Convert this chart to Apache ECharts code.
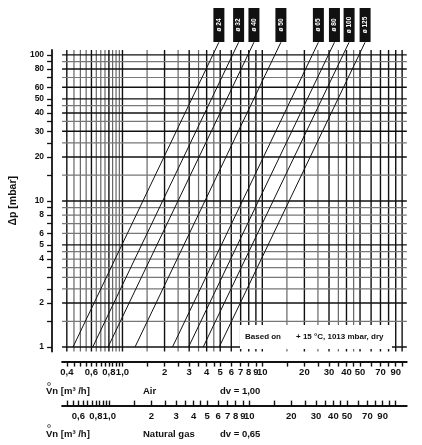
<!DOCTYPE html>
<html><head><meta charset="utf-8">
<script src="https://cdn.jsdelivr.net/npm/echarts@6/dist/echarts.min.js"></script>
<style>html,body{margin:0;padding:0;background:#fff}#c{width:422px;height:445px}</style>
</head><body><div id="c"></div>
<script>
const sizes = ['ø 24','ø 32','ø 40','ø 50','ø 65','ø 80','ø 100','ø 125'];
const flowAtOneMbar = [0.443,0.613,0.789,1.23,2.28,2.97,3.78,4.92];
const dpTicks = [1,2,4,5,6,8,10,20,30,40,50,60,80,100];
const gridY = [1,1.5,2,2.5,3,3.5,4,4.5,5,6,7,8,9,10,15,20,25,30,35,40,45,50,60,70,80,90,100];
const gridX = [0.4,0.45,0.5,0.55,0.6,0.65,0.7,0.75,0.8,0.85,0.9,0.95,1.0,1.5,2,2.5,3,3.5,4,4.5,5,6,7,8,9,10,15,20,25,30,35,40,45,50,60,70,80,90,100];
const airLabels = [0.4,0.6,0.8,1,2,3,4,5,6,7,8,9,10,20,30,40,50,70,90];
const airTicks = gridX;
const gasLabels = [0.6,0.8,1,2,3,4,5,6,7,8,9,10,20,30,40,50,70,90];
const gasTicks = [0.5,0.55,0.6,0.65,0.7,0.75,0.8,0.85,0.9,0.95,1,1.5,2,2.5,3,3.5,4,4.5,5,6,7,8,9,10,15,20,25,30,35,40,45,50,60,70,80,90,100,110];
const densityGas = 0.65;

const fmt = v => { if (v<1) return String(v).replace('.',','); if (v===1) return '1,0'; return String(v); };
const blackX = [0.4,0.6,0.8,1,2,3,4,5,6,7,8,9,10,20,30,40,50,60,70,80,90,100];
const blackY = [1,2,5,10,20,30,40,50,60,80,100];
const xMin=0.37, xMax=108, yMin=0.93, yMax=108;
const chart = echarts.init(document.getElementById('c'));
const series = [];
gridX.forEach(v=>series.push({type:'line',symbol:'none',silent:true,z:2,data:[[v,yMin],[v,yMax]],
  lineStyle:{color:blackX.includes(v)?'#111':'#666',width:blackX.includes(v)?1.4:1.2}}));
gridY.forEach(v=>series.push({type:'line',symbol:'none',silent:true,z:2,data:[[xMin,v],[xMax,v]],
  lineStyle:{color:blackY.includes(v)?'#111':'#777',width:blackY.includes(v)?1.4:1.2}}));
sizes.forEach((s,i)=>{
  const v1 = flowAtOneMbar[i];
  series.push({type:'line', symbol:'none', clip:false, silent:true,
    lineStyle:{color:'#111',width:1},
    data:[[v1,1],[v1*10,100],[v1*Math.sqrt(122),122]], z:5});
});
chart.setOption({
  animation:false,
  grid:{left:47,right:15.2,top:50,bottom:93.4},
  xAxis:[
    {type:'log', min:xMin, max:xMax, position:'bottom', offset:10,
     axisLine:{show:true,lineStyle:{color:'#111',width:1.8}},
     axisTick:{show:true,customValues:airTicks,length:5,lineStyle:{color:'#111',width:1.4}},
     splitLine:{show:false},
     axisLabel:{customValues:airLabels,formatter:fmt,color:'#111',fontWeight:'bold',fontSize:9.5,fontFamily:'Liberation Sans',margin:6}},
    {type:'log', min:xMin/Math.sqrt(densityGas), max:xMax/Math.sqrt(densityGas), position:'bottom', offset:54,
     axisLine:{show:true,lineStyle:{color:'#111',width:1.8}},
     axisTick:{show:true,customValues:gasTicks,length:5,inside:true,lineStyle:{color:'#111',width:1.4}},
     splitLine:{show:false},
     axisLabel:{customValues:gasLabels,formatter:fmt,color:'#111',fontWeight:'bold',fontSize:9.5,fontFamily:'Liberation Sans',margin:6}}
  ],
  yAxis:{type:'log', min:yMin, max:yMax, offset:10,
     name:'Δp [mbar]', nameLocation:'middle', nameGap:26, nameRotate:90,
     nameTextStyle:{color:'#111',fontWeight:'bold',fontSize:10.5,fontFamily:'Liberation Sans'},
     axisLine:{show:true,lineStyle:{color:'#111',width:1.8}},
     axisTick:{show:true,customValues:gridY,length:5,lineStyle:{color:'#111',width:1.3}},
     splitLine:{show:false},
     axisLabel:{customValues:dpTicks,color:'#111',fontWeight:'bold',fontSize:8.5,fontFamily:'Liberation Sans',margin:8}},
  series
});
const g = [];
sizes.forEach((s,i)=>{
  const p = chart.convertToPixel({xAxisIndex:0,yAxisIndex:0},[flowAtOneMbar[i]*Math.sqrt(122),122]);
  g.push({type:'rect', shape:{x:p[0]-5.5,y:8,width:11,height:34}, style:{fill:'#111'}, z:10});
  g.push({type:'text', x:p[0], y:25, rotation:Math.PI/2, style:{text:s,fill:'#fff',fontSize:6.5,fontWeight:'bold',fontFamily:'Liberation Sans',align:'center',verticalAlign:'middle'}, z:11});
});
g.push({type:'rect', shape:{x:240,y:325,width:152,height:24}, style:{fill:'#fff'}, z:8});
g.push({type:'text', x:245, y:337, style:{text:'Based on',fill:'#111',fontSize:8,fontWeight:'bold',fontFamily:'Liberation Sans',verticalAlign:'middle'}, z:9});
g.push({type:'text', x:296, y:337, style:{text:'+ 15 °C, 1013 mbar, dry',fill:'#111',fontSize:8,fontWeight:'bold',fontFamily:'Liberation Sans',verticalAlign:'middle'}, z:9});
const t=(x,y,s)=>g.push({type:'text',x,y,style:{text:s,fill:'#111',fontSize:9.5,fontWeight:'bold',fontFamily:'Liberation Sans',verticalAlign:'middle'},z:9});
t(46,391,'Vn [m³ /h]'); t(143,391,'Air'); t(220,391,'dv = 1,00');
t(46,434,'Vn [m³ /h]'); t(143,434,'Natural gas'); t(220,434,'dv = 0,65');
g.push({type:'circle',shape:{cx:49,cy:384,r:1.5},style:{fill:'none',stroke:'#111',lineWidth:0.6},z:9});
g.push({type:'circle',shape:{cx:49,cy:426,r:1.5},style:{fill:'none',stroke:'#111',lineWidth:0.6},z:9});
chart.setOption({graphic:g});
</script></body></html>
